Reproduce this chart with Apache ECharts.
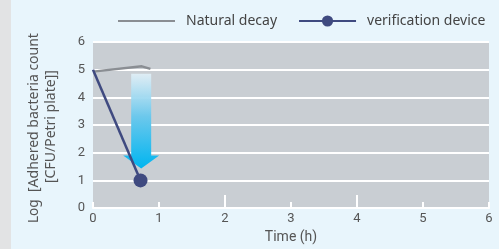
<!DOCTYPE html>
<html>
<head>
<meta charset="utf-8">
<script src="https://cdn.jsdelivr.net/npm/echarts@6/dist/echarts.min.js"></script>
<style>
	html, body { margin: 0; padding: 0; background: #e8f5fc; }
	#chart { width: 499px; height: 249px; }
</style>
</head>
<body>
<div id="chart"></div>
<script>
// data
var seriesNames = ["Natural decay", "verification device"];
var naturalX = [0, 0.74, 0.87];
var naturalY = [4.93, 5.12, 5.03];
var deviceX = [0, 0.72];
var deviceY = [5, 1];
var xTicks = [0, 1, 2, 3, 4, 5, 6];
var longTicks = [2, 4];
var yTicks = [0, 1, 2, 3, 4, 5, 6];
// arrow: x, top value, tip value
var arrowData = [[0.73, 4.85, 1.43]];

var chart = echarts.init(document.getElementById("chart"), null, { renderer: "canvas" });
var font = "Roboto, 'DejaVu Sans', sans-serif";
var wide = "'Noto Sans', Roboto, sans-serif";
var txt = "#555";

var option = {
	backgroundColor: "#e8f5fc",
	animation: false,
	textStyle: { fontFamily: font },
	graphic: [
		{
			// grey strip on the left edge
			type: "rect",
			left: 0,
			top: 0,
			shape: { width: 11, height: 249 },
			style: { fill: "#e2e3e4" },
			silent: true,
		},
		{
			type: "text",
			x: 41,
			y: 223,
			rotation: Math.PI / 2,
			style: { text: "Log", font: "13.5px " + wide, fill: txt, textAlign: "left", textVerticalAlign: "bottom" },
		},
		{
			type: "text",
			x: 41,
			y: 192,
			rotation: Math.PI / 2,
			style: { text: "[Adhered bacteria count", font: "14px " + wide, fill: txt, textAlign: "left", textVerticalAlign: "bottom" },
		},
		{
			type: "text",
			x: 58,
			y: 183,
			rotation: Math.PI / 2,
			style: { text: "[CFU/Petri plate]]", font: "14px " + wide, fill: txt, textAlign: "left", textVerticalAlign: "bottom" },
		},
	],
	legend: {
		left: 117,
		top: 14,
		padding: 0,
		itemWidth: 57,
		itemHeight: 14,
		itemGap: 21,
		data: [
			{ name: seriesNames[0], itemStyle: { opacity: 0 } },
			{ name: seriesNames[1] },
		],
		textStyle: { color: "#444", fontSize: 14, fontFamily: wide, padding: [0, 0, 0, 6] },
	},
	grid: {
		left: 93,
		right: 10,
		top: 42,
		bottom: 39,
		show: true,
		backgroundColor: "#c9ced3",
		borderWidth: 0,
	},
	xAxis: {
		type: "value",
		min: 0,
		max: 6,
		interval: 1,
		name: "Time (h)",
		nameLocation: "middle",
		nameGap: 20,
		nameTextStyle: { color: txt, fontSize: 14 },
		axisLine: { show: true, lineStyle: { color: "#ffffff", width: 2 } },
		axisTick: { show: true, inside: true, length: 6, lineStyle: { color: "#ffffff", width: 2 } },
		axisLabel: { color: txt, fontSize: 13, margin: 4, customValues: xTicks },
		splitLine: { show: false },
	},
	yAxis: {
		type: "value",
		min: 0,
		max: 6,
		interval: 1,
		axisLine: { show: false },
		axisTick: { show: false },
		axisLabel: { color: txt, fontSize: 13, margin: 8, customValues: yTicks },
		splitLine: { show: true, lineStyle: { color: "#ffffff", width: 2 } },
	},
	series: [
		{
			// longer white ticks at 2 and 4
			type: "custom",
			silent: true,
			z: 2,
			data: longTicks.map(function (t) { return [t, 0]; }),
			renderItem: function (params, api) {
				var p = api.coord([api.value(0), api.value(1)]);
				return {
					type: "line",
					shape: { x1: p[0], y1: p[1], x2: p[0], y2: p[1] - 13 },
					style: { stroke: "#ffffff", lineWidth: 2 },
				};
			},
		},
		{
			type: "custom",
			silent: true,
			z: 1,
			data: arrowData,
			renderItem: function (params, api) {
				var top = api.coord([api.value(0), api.value(1)]);
				var tip = api.coord([api.value(0), api.value(2)]);
				var cx = top[0];
				var sw = 10; // half shaft width
				var hw = 18; // half head width
				var hh = 13; // head height
				var neck = tip[1] - hh;
				return {
					type: "polygon",
					shape: {
						points: [
							[cx - sw, top[1]],
							[cx + sw, top[1]],
							[cx + sw, neck],
							[cx + hw, neck],
							[cx, tip[1]],
							[cx - hw, neck],
							[cx - sw, neck],
						],
					},
					style: {
						fill: new echarts.graphic.LinearGradient(0, 0, 0, 1, [
							{ offset: 0, color: "rgba(225,240,248,0.9)" },
							{ offset: 0.45, color: "#6cc8ec" },
							{ offset: 1, color: "#00b5f0" },
						]),
					},
				};
			},
		},
		{
			name: seriesNames[0],
			type: "line",
			z: 3,
			symbol: "none",
			color: "#8a8e93",
			lineStyle: { color: "#8a8e93", width: 2.5 },
			data: naturalX.map(function (x, i) { return [x, naturalY[i]]; }),
		},
		{
			name: seriesNames[1],
			type: "line",
			z: 4,
			symbol: "circle",
			symbolSize: 14,
			showSymbol: true,
			color: "#3f4a80",
			itemStyle: { color: "#3f4a80" },
			lineStyle: { color: "#3f4a80", width: 2.5 },
			data: deviceX.map(function (x, i) {
				return { value: [x, deviceY[i]], symbolSize: i === 0 ? 0 : 14 };
			}),
		},
	],
};
chart.setOption(option);
</script>
</body>
</html>
